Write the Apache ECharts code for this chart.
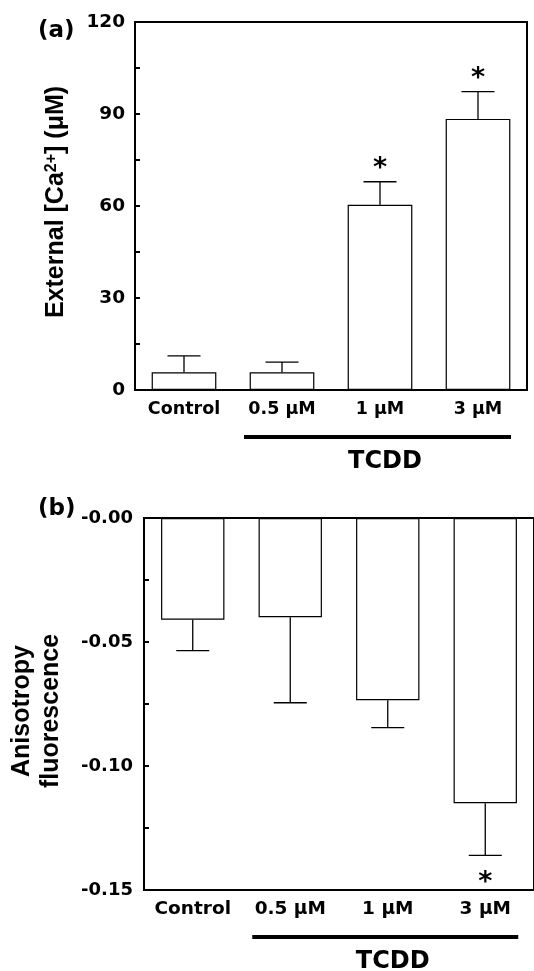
<!DOCTYPE html>
<html>
<head>
<meta charset="utf-8">
<script src="https://cdn.jsdelivr.net/npm/echarts@6/dist/echarts.min.js"></script>
<style>
html,body{margin:0;padding:0;background:#fff;}
#chart{width:534px;height:971px;}
</style>
</head>
<body>
<div id="chart"></div>
<script>
// ---- data ----
const categories = ['Control', '0.5 μM', '1 μM', '3 μM'];
// panel (a): external Ca2+ (µM)
const caMean = [5.8, 5.8, 60.4, 88.4];
const caSem = [5.3, 3.3, 7.5, 8.9];
const caSig = ['', '', '*', '*'];
const caTicks = [0, 30, 60, 90, 120];
// panel (b): anisotropy fluorescence
const aniMean = [-0.041, -0.040, -0.0735, -0.115];
const aniSem = [0.0125, 0.0345, 0.011, 0.021];
const aniSig = ['', '', '', '*'];
const aniTicks = [-0.15, -0.10, -0.05, 0];
const groupLabel = 'TCDD';
const groupRange = [1, 3];

const TXT = 'DejaVu Sans';
const ROT = 'Liberation Sans';

const errA = caMean.map((m, i) => [i, m, m + caSem[i]]);
const errB = aniMean.map((m, i) => [i, m, m - aniSem[i]]);
const starA = caSig.map((s, i) => s ? [i, caMean[i] + caSem[i], s] : null).filter(Boolean);
const starB = aniSig.map((s, i) => s ? [i, aniMean[i] - aniSem[i], s] : null).filter(Boolean);

function errRender(params, api) {
  const x = api.value(0), v = api.value(1), e = api.value(2);
  const p0 = api.coord([x, v]), p1 = api.coord([x, e]);
  const hw = 16.5;
  const st = { stroke: '#000', lineWidth: 1.3 };
  return { type: 'group', children: [
    { type: 'line', shape: { x1: p0[0], y1: p0[1], x2: p1[0], y2: p1[1] }, style: st },
    { type: 'line', shape: { x1: p1[0] - hw, y1: p1[1], x2: p1[0] + hw, y2: p1[1] }, style: st }
  ]};
}
function starRender(dir) {
  return function (params, api) {
    const p = api.coord([api.value(0), api.value(1)]);
    return { type: 'text', x: p[0], y: p[1] + dir,
      style: { text: api.value(2), fill: '#000', font: 'bold 27px "' + TXT + '"', align: 'center', verticalAlign: 'middle' } };
  };
}
function groupRender(params, api) {
  const cs = params.coordSys;
  const bottom = cs.y + cs.height;
  const a = api.coord([api.value(0), 0])[0];
  const b = api.coord([api.value(1), 0])[0];
  const mid = (a + b) / 2;
  return { type: 'group', children: [
    { type: 'line', shape: { x1: a - 38, y1: bottom + 47, x2: b + 33, y2: bottom + 47 },
      style: { stroke: '#000', lineWidth: 4 } },
    { type: 'text', x: mid + 5, y: bottom + 72,
      style: { text: groupLabel, fill: '#000', font: 'bold 24px "' + TXT + '"', align: 'center', verticalAlign: 'middle' } }
  ]};
}

const lab = size => ({ color: '#000', fontFamily: TXT, fontWeight: 'bold', fontSize: size });

const option = {
  backgroundColor: '#fff',
  animation: false,
  title: [
    { text: '(a)', left: 33, top: 15, textStyle: { fontFamily: TXT, fontWeight: 'bold', fontSize: 23, color: '#000' } },
    { text: '(b)', left: 33, top: 493, textStyle: { fontFamily: TXT, fontWeight: 'bold', fontSize: 23, color: '#000' } }
  ],
  grid: [
    { left: 135, top: 22, width: 392, height: 368, show: true, borderColor: '#000', borderWidth: 2, backgroundColor: 'transparent' },
    { left: 144, top: 518, width: 398, height: 372, show: true, borderColor: '#000', borderWidth: 2, backgroundColor: 'transparent' }
  ],
  xAxis: [
    { type: 'category', gridIndex: 0, data: categories, position: 'bottom',
      axisLine: { onZero: false, lineStyle: { color: '#000', width: 2 } },
      axisTick: { show: false }, axisLabel: Object.assign({ margin: 10, interval: 0, hideOverlap: false }, lab(17.5)) },
    { type: 'category', gridIndex: 1, data: categories, position: 'bottom',
      axisLine: { onZero: false, lineStyle: { color: '#000', width: 2 } },
      axisTick: { show: false }, axisLabel: Object.assign({ margin: 10, interval: 0, hideOverlap: false }, lab(18.5)) }
  ],
  yAxis: [
    { type: 'value', gridIndex: 0, min: caTicks[0], max: caTicks[caTicks.length - 1], interval: 15,
      splitLine: { show: false },
      axisLine: { show: true, lineStyle: { color: '#000', width: 2 } },
      axisTick: { show: true, inside: true, length: 5, lineStyle: { color: '#000', width: 2 } },
      axisLabel: Object.assign({ margin: 10, formatter: v => caTicks.includes(v) ? String(v) : '' }, lab(18.5)),
      name: 'External [Ca{sup|2+}] (μM)', nameLocation: 'middle', nameRotate: 90, nameGap: 66,
      nameTextStyle: { fontFamily: ROT, fontWeight: 'bold', fontSize: 25, color: '#000', padding: [0, 0, 0, 8],
        rich: { sup: { fontFamily: ROT, fontWeight: 'bold', fontSize: 16, color: '#000', verticalAlign: 'top', lineHeight: 16 } } }
    },
    { type: 'value', gridIndex: 1, min: aniTicks[0], max: aniTicks[aniTicks.length - 1], interval: 0.025,
      splitLine: { show: false },
      axisLine: { show: true, onZero: false, lineStyle: { color: '#000', width: 2 } },
      axisTick: { show: true, inside: true, length: 5, lineStyle: { color: '#000', width: 2 } },
      axisLabel: Object.assign({ margin: 11, formatter: v => {
        const hit = aniTicks.find(t => Math.abs(t - v) < 1e-9);
        return hit === undefined ? '' : '-' + Math.abs(hit).toFixed(2);
      } }, lab(18)),
      name: 'Anisotropy\nfluorescence', nameLocation: 'middle', nameRotate: 90, nameGap: 78,
      nameTextStyle: { fontFamily: ROT, fontWeight: 'bold', fontSize: 25, color: '#000', lineHeight: 29, padding: [0, 14, 0, 0] }
    }
  ],
  series: [
    { type: 'bar', xAxisIndex: 0, yAxisIndex: 0, data: caMean, barCategoryGap: '34%',
      itemStyle: { color: '#fff', borderColor: '#000', borderWidth: 1.2 } },
    { type: 'custom', xAxisIndex: 0, yAxisIndex: 0, data: errA, renderItem: errRender, z: 3 },
    { type: 'custom', xAxisIndex: 0, yAxisIndex: 0, data: starA, renderItem: starRender(-13), z: 3 },
    { type: 'custom', xAxisIndex: 0, yAxisIndex: 0, data: [groupRange], renderItem: groupRender, clip: false },
    { type: 'bar', xAxisIndex: 1, yAxisIndex: 1, data: aniMean, barCategoryGap: '35%',
      itemStyle: { color: '#fff', borderColor: '#000', borderWidth: 1.2 } },
    { type: 'custom', xAxisIndex: 1, yAxisIndex: 1, data: errB, renderItem: errRender, z: 3 },
    { type: 'custom', xAxisIndex: 1, yAxisIndex: 1, data: starB, renderItem: starRender(28), z: 3 },
    { type: 'custom', xAxisIndex: 1, yAxisIndex: 1, data: [groupRange], renderItem: groupRender, clip: false }
  ]
};
const chart = echarts.init(document.getElementById('chart'), null, { renderer: 'canvas' });
chart.setOption(option);
</script>
</body>
</html>
